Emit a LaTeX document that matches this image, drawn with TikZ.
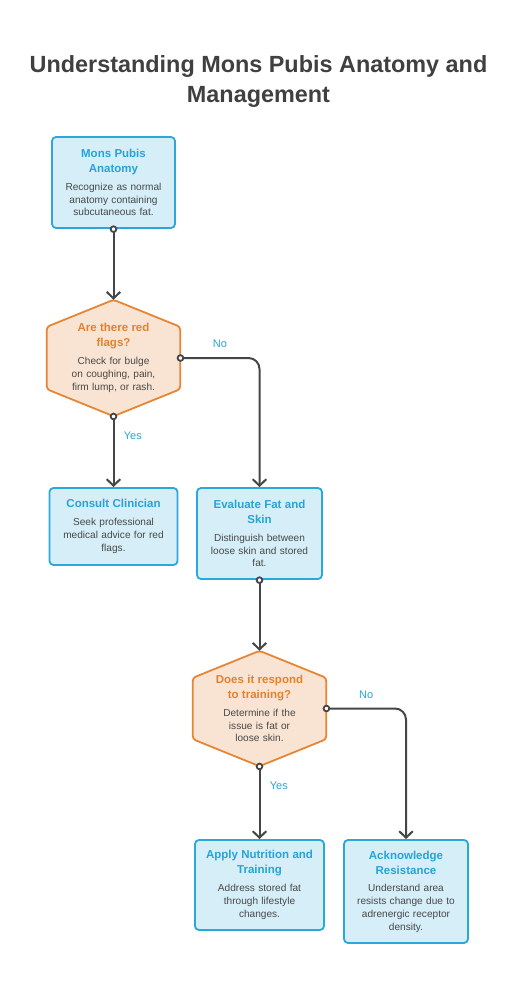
\documentclass[tikz,border=0pt]{standalone}
\usepackage{fontspec}
\setmainfont{Liberation Sans}
\usetikzlibrary{arrows.meta,backgrounds}
\definecolor{bfill}{RGB}{213,238,248}
\definecolor{bline}{RGB}{42,168,220}
\definecolor{btext}{RGB}{38,164,216}
\definecolor{hfill}{RGB}{249,228,212}
\definecolor{hline}{RGB}{230,134,52}
\definecolor{htext}{RGB}{226,130,46}
\definecolor{bodyc}{RGB}{72,72,72}
\definecolor{titlec}{RGB}{64,64,64}
\definecolor{connc}{RGB}{70,70,70}
\newcommand{\ntext}[3]{{\color{#1}\bfseries\fontsize{11.5}{15}\selectfont #2\par}\vspace{5pt}{\color{bodyc}\fontsize{10.1}{12.8}\selectfont #3\par}}
\tikzset{
  boxn/.style={draw=bline,fill=bfill,line width=1.8pt,rounded corners=4pt,align=center,inner xsep=0pt,inner ysep=0pt},
  hexn/.style={align=center,inner sep=0pt},
  hexshape/.style={draw=hline,fill=hfill,line width=1.8pt,rounded corners=3pt,line join=round},
  conn/.style={draw=connc,line width=2pt,rounded corners=11pt,shorten <=-3.5pt,
    {Circle[length=7.5pt,width=7.5pt,fill=white,line width=1.8pt]}-{Straight Barb[length=6.5pt,width=13.5pt,line width=2pt]}},
  lbl/.style={text=btext,font=\fontsize{11}{13}\selectfont},
}
\newcommand{\hexagon}[1]{\draw[hexshape] (#1.north) -- ([yshift=-27pt]#1.north east) -- ([yshift=27pt]#1.south east) -- (#1.south) -- ([yshift=27pt]#1.south west) -- ([yshift=-27pt]#1.north west) -- cycle;}
\begin{document}
\begin{tikzpicture}[x=1pt,y=1pt]
\useasboundingbox (0,0) rectangle (517,-998);
\node[text=titlec,font=\bfseries\fontsize{23.4}{30}\selectfont,align=center] (title) at (258.5,-82) {Understanding Mons Pubis Anatomy and\\Management};

\node[boxn,text width=123pt,minimum height=91pt] (b1) at (113.5,-182.5) {\ntext{btext}{Mons Pubis\\Anatomy}{Recognize as normal\\anatomy containing\\subcutaneous fat.}};

\node[hexn,text width=133pt,minimum height=116pt] (h1) at (113.5,-358) {\ntext{htext}{Are there red\\flags?}{Check for bulge\\on coughing, pain,\\firm lump, or rash.}};

\node[boxn,text width=128pt,minimum height=77pt] (b2) at (113.5,-526.5) {\ntext{btext}{Consult Clinician}{Seek professional\\medical advice for red\\flags.}};

\node[boxn,text width=125pt,minimum height=91pt] (b3) at (259.5,-533.5) {\ntext{btext}{Evaluate Fat and\\Skin}{Distinguish between\\loose skin and stored\\fat.}};

\node[hexn,text width=133pt,minimum height=115pt] (h2) at (259.5,-708.5) {\ntext{htext}{Does it respond\\to training?}{Determine if the\\issue is fat or\\loose skin.}};

\node[boxn,text width=129pt,minimum height=90pt] (b4) at (259.5,-885) {\ntext{btext}{Apply Nutrition and\\Training}{Address stored fat\\through lifestyle\\changes.}};

\node[boxn,text width=124pt,minimum height=103pt] (b5) at (406,-891.5) {\ntext{btext}{Acknowledge\\Resistance}{Understand area\\resists change due to\\adrenergic receptor\\density.}};

\begin{scope}[on background layer]
\hexagon{h1}
\hexagon{h2}
\end{scope}

\draw[conn] (b1.south) -- (h1.north);
\draw[conn] (h1.south) -- (b2.north) node[lbl,pos=0.27,right=6pt] {Yes};
\draw[conn] (h1.east) -| (b3.north) node[lbl,pos=0.25,above=6pt] {No};
\draw[conn] (b3.south) -- (h2.north);
\draw[conn] (h2.south) -- (b4.north) node[lbl,pos=0.27,right=6pt] {Yes};
\draw[conn] (h2.east) -| (b5.north) node[lbl,pos=0.25,above=6pt] {No};
\end{tikzpicture}
\end{document}
